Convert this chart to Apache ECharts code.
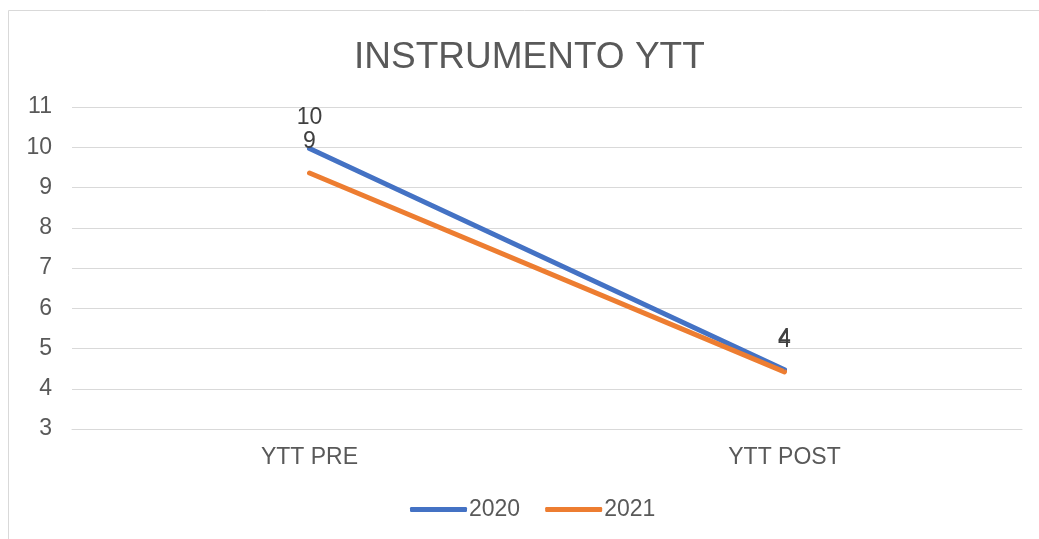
<!DOCTYPE html>
<html lang="es">
<head>
    <meta charset="UTF-8">
    <title>INSTRUMENTO YTT</title>
    <style>
        * { box-sizing: border-box; margin: 0; padding: 0; }
        body { background: #fff; }
        #chart { width: 1039px; height: 539px; }
    </style>
    <script src="https://cdn.jsdelivr.net/npm/echarts@6/dist/echarts.min.js"></script>
</head>
<body>
    <div id="chart"></div>
    <script>
        // datos
        const categorias = ['YTT PRE', 'YTT POST'];
        const serie2020 = [9.97, 4.47];
        const serie2021 = [9.36, 4.42];
        const ticksY = [3, 11];

        const fuente = '"Liberation Sans", Arial, sans-serif';

        function linea(nombre, datos, color) {
            return {
                name: nombre,
                type: 'line',
                data: datos,
                symbol: 'circle',
                symbolSize: 1,
                showSymbol: true,
                lineStyle: { color: color, width: 5, cap: 'round' },
                itemStyle: { color: color },
                label: {
                    show: true,
                    position: 'top',
                    distance: 19,
                    formatter: p => Math.round(p.value),
                    fontFamily: fuente,
                    fontSize: 23,
                    color: '#404040'
                }
            };
        }

        const chart = echarts.init(document.getElementById('chart'));
        chart.setOption({
            animation: false,
            graphic: [{
                type: 'rect',
                shape: { x: 8.5, y: 10.5, width: 1200, height: 700 },
                style: { fill: 'none', stroke: '#d9d9d9', lineWidth: 1 },
                silent: true
            }],
            title: {
                text: 'INSTRUMENTO YTT',
                left: 349,
                top: 34,
                textStyle: {
                    fontFamily: fuente,
                    fontWeight: 'normal',
                    fontSize: 37,
                    color: '#595959'
                }
            },
            legend: {
                bottom: 13,
                left: 405,
                itemWidth: 57,
                itemHeight: 5,
                itemGap: 25,
                icon: 'roundRect',
                textStyle: { fontFamily: fuente, fontSize: 23, color: '#595959', padding: [0, 0, 0, -3] }
            },
            grid: { left: 72, right: 17, top: 107, bottom: 110 },
            xAxis: {
                type: 'category',
                data: categorias,
                axisLine: { lineStyle: { color: '#d9d9d9' } },
                axisTick: { show: false },
                axisLabel: { margin: 17, fontFamily: fuente, fontSize: 23, color: '#595959' }
            },
            yAxis: {
                type: 'value',
                min: ticksY[0],
                max: ticksY[1],
                interval: 1,
                axisLine: { show: false },
                axisTick: { show: false },
                axisLabel: { margin: 20, fontFamily: fuente, fontSize: 23, color: '#595959' },
                splitLine: { lineStyle: { color: '#d9d9d9', width: 1 } }
            },
            series: [
                linea('2020', serie2020, '#4472C4'),
                linea('2021', serie2021, '#ED7D31')
            ]
        });
    </script>
</body>
</html>
